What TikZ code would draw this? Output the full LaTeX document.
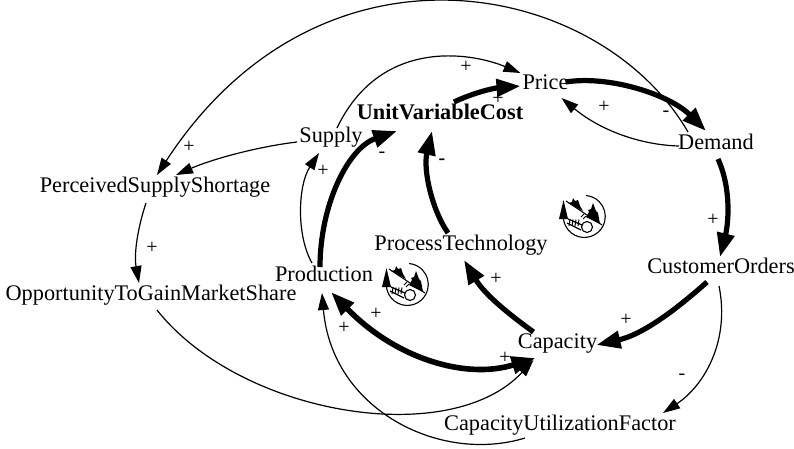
\documentclass[tikz,border=0pt]{standalone}
\usepackage{fontspec}
\setmainfont{Liberation Serif}
\usetikzlibrary{arrows.meta,calc}
\tikzset{
  x=1pt,y=-1pt,
  var/.style={inner sep=0pt,anchor=base,font=\fontsize{22.3}{26}\selectfont},
  sign/.style={inner sep=0pt,font=\fontsize{20}{24}\selectfont},
  thin link/.style={line width=1.2pt,-{Triangle[length=17pt,width=11pt]}},
  thick link/.style={line width=5.2pt,-{Triangle[length=24pt,width=17pt]}},
  both thick/.style={line width=5.6pt,{Triangle[length=24pt,width=17pt]}-{Triangle[length=24pt,width=17pt]}},
  valve/.pic={
    \draw[line width=1.1pt] (-20,-5) arc[start angle=195,end angle=-85,x radius=21,y radius=21];
    \fill (-25,3) -- (-20.5,-16) -- (-16,3) -- cycle;
    \draw[line width=1.1pt] (-18,-15) -- (18,9);
    \fill (-16,-13) -- (-12,-14) -- (-11,-18) -- (-9,-15) -- (-6,-16) -- (-4,-10) -- (-1,-5) -- cycle;
    \fill (2,1) -- (5,-4) -- (4,-6) -- (7,-7) -- (9,-13) -- (12,-5) -- (14,-3) -- (16,8) -- cycle;
    \draw[line width=1pt] (-3,1) -- (0,-2) (-1,3) -- (2,0);
    \draw[line width=1.1pt,fill=white] (3,11) circle (5.5);
    \draw[line width=1.3pt] (-16,3) -- (-2,9);
    \draw[line width=1.3pt] (-17,7) -- (-3,14);
    \foreach \k in {-14,-11,-8,-5}{\draw[line width=1pt] (\k,3.5) -- (\k-1,10);}
  }
}
\begin{document}
\begin{tikzpicture}
\useasboundingbox (0,0) rectangle (794,448);
\node[var] (Price) at (545.5,89) {Price};
\node[var,font=\fontsize{22.3}{26}\selectfont\bfseries] (UVC) at (440,119) {UnitVariableCost};
\node[var] (Demand) at (716,149) {Demand};
\node[var] (Supply) at (331,142) {Supply};
\node[var] (PSS) at (155,192) {PerceivedSupplyShortage};
\node[var] (Opp) at (151,300) {OpportunityToGainMarketShare};
\node[var] (Prod) at (324,281) {Production};
\node[var] (PT) at (461,250) {ProcessTechnology};
\node[var] (CO) at (721,273) {CustomerOrders};
\node[var] (Cap) at (557.5,348) {Capacity};
\node[var] (CUF) at (560,430) {CapacityUtilizationFactor};

\draw[thin link] ([shift={(-28,-17)}]Demand.base) .. controls (600,-20) and (321,-77) .. ([shift={(2,-17)}]PSS.base);
\draw[thick link] ([shift={(20,-7)}]Price.base) .. controls (610,75) and (670,95) .. ([shift={(-10,-18)}]Demand.base);
\draw[thin link] ([shift={(-37,-3)}]Demand.base) .. controls (640,145) and (600,130) .. ([shift={(16,9)}]Price.base);
\draw[thick link] ([shift={(14,-17)}]UVC.base) .. controls (475,92) and (495,88) .. ([shift={(-25,-3)}]Price.base);
\draw[thin link] ([shift={(6,-14)}]Supply.base) .. controls (380,38) and (470,52) .. ([shift={(-25,-16)}]Price.base);
\draw[thin link] ([shift={(-34,0)}]Supply.base) .. controls (255,147) and (210,160) .. ([shift={(21,-17)}]PSS.base);
\draw[thin link] ([shift={(-12,-18)}]Prod.base) .. controls (296,235) and (298,185) .. ([shift={(-12,11)}]Supply.base);
\draw[thick link] ([shift={(-4,-14)}]Prod.base) .. controls (320,205) and (348,148) .. ([shift={(-43,12)}]UVC.base);
\draw[thick link] ([shift={(-13,-17)}]PT.base) .. controls (432,210) and (423,170) .. ([shift={(-8,12)}]UVC.base);
\draw[thick link] ([shift={(-24,-16)}]Cap.base) .. controls (510,315) and (485,295) .. ([shift={(3,10)}]PT.base);
\draw[both thick] ([shift={(7,11)}]Prod.base) .. controls (395,358) and (465,380) .. ([shift={(-22,10)}]Cap.base);
\draw[thin link] ([shift={(-35,8)}]CUF.base) .. controls (440,464) and (332,410) .. ([shift={(-2,12)}]Prod.base);
\draw[thin link] ([shift={(6,10)}]Opp.base) .. controls (240,415) and (450,450) .. ([shift={(-24,12)}]Cap.base);
\draw[thick link] ([shift={(-14,9)}]CO.base) .. controls (670,315) and (640,335) .. ([shift={(39,-3)}]Cap.base);
\draw[thin link] ([shift={(-2,13)}]CO.base) .. controls (730,340) and (705,385) .. ([shift={(103,-17)}]CUF.base);
\draw[thick link] ([shift={(2,10)}]Demand.base) .. controls (732,190) and (728,225) .. ([shift={(-1,-16)}]CO.base);
\draw[thin link] ([shift={(-9,11)}]PSS.base) .. controls (137,230) and (134,255) .. ([shift={(-12,-17)}]Opp.base);

\node[sign] (s1) at (466,67) {+};
\node[sign] (s2) at (498,99) {+};
\node[sign] (s3) at (604,107) {+};
\node[sign] (s4) at (666,114) {-};
\node[sign] (s5) at (189,147) {+};
\node[sign] (s6) at (323,171) {+};
\node[sign] (s7) at (382,155) {-};
\node[sign,font=\fontsize{20}{24}\selectfont\bfseries] (s8) at (442,162) {-};
\node[sign] (s9) at (152,248) {+};
\node[sign] (s10) at (713,220) {+};
\node[sign] (s11) at (496,279) {+};
\node[sign] (s12) at (376,314) {+};
\node[sign] (s13) at (344,328) {+};
\node[sign] (s14) at (505,358) {+};
\node[sign] (s15) at (626,320) {+};
\node[sign] (s16) at (682,377) {-};

\pic at (407,284) {valve};
\pic at (584,216) {valve};
\end{tikzpicture}
\end{document}
